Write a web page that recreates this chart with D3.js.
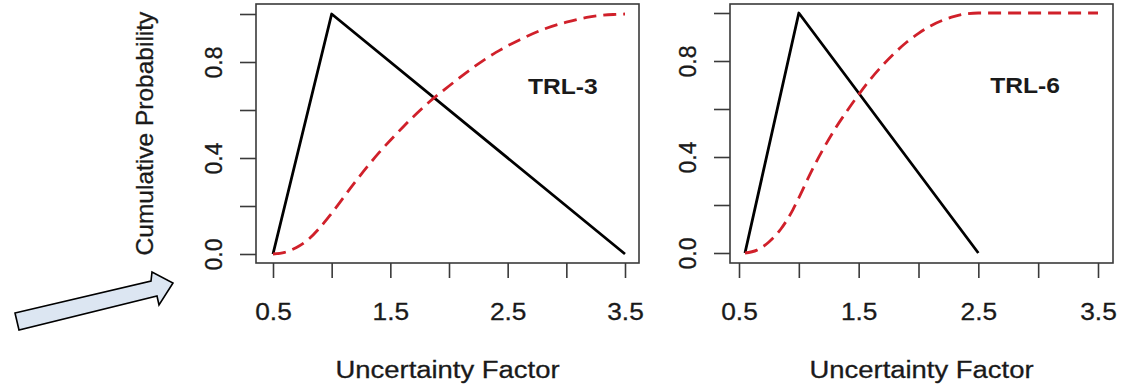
<!DOCTYPE html>
<html>
<head>
<meta charset="utf-8">
<script src="https://cdn.jsdelivr.net/npm/d3@7"></script>
<style>
  html, body { margin: 0; padding: 0; background: #fff; }
  svg { display: block; }
  text { font-family: "Liberation Sans", Arial, Helvetica, sans-serif; fill: #1a1a1a; }
</style>
</head>
<body>
<svg id="chart" width="1132" height="385"></svg>
<script>
// ---------- data ----------
const xTicks = [0.5, 1.0, 1.5, 2.0, 2.5, 3.0, 3.5];
const xTickLabels = ["0.5", "", "1.5", "", "2.5", "", "3.5"];
const yTicks = [0, 0.2, 0.4, 0.6, 0.8, 1.0];
const yTickLabels = ["0.0", "", "0.4", "", "0.8", ""];
const panelNames = ["TRL-3", "TRL-6"];
const xTitle = "Uncertainty Factor";
const yTitle = "Cumulative Probability";

// black solid triangle
const trl3TriX = [0.5, 1.0, 3.5];
const trl3TriY = [0, 1, 0];
const trl6TriX = [0.55, 1.0, 2.5];
const trl6TriY = [0, 1, 0];

// red dashed cumulative curve
const trl3CdfX = [0.5, 0.6, 0.7, 0.8, 0.9, 1.0, 1.2, 1.4, 1.6, 1.8, 2.0, 2.2, 2.4, 2.6, 2.8, 3.0, 3.2, 3.4, 3.5];
const trl3CdfY = [0, 0.007, 0.027, 0.06, 0.11, 0.17, 0.30, 0.42, 0.525, 0.62, 0.70, 0.775, 0.84, 0.892, 0.935, 0.966, 0.988, 0.998, 1.0];
const trl6CdfX = [0.55, 0.65, 0.75, 0.85, 0.95, 1.0, 1.1, 1.2, 1.3, 1.4, 1.5, 1.6, 1.7, 1.8, 1.9, 2.0, 2.1, 2.2, 2.3, 2.4, 2.5, 3.0, 3.5];
const trl6CdfY = [0, 0.012, 0.046, 0.10, 0.18, 0.23, 0.335, 0.43, 0.515, 0.59, 0.66, 0.725, 0.782, 0.833, 0.878, 0.915, 0.946, 0.969, 0.986, 0.997, 1.0, 1.0, 1.0];

// ---------- layout ----------
const svg = d3.select("#chart");
svg.append("rect").attr("width", 1132).attr("height", 385).attr("fill", "#fff");

const HS = 1.12; // horizontal stretch of the original picture
const red = "#d0202a";
const ink = "#1a1a1a";

const panels = [
  { name: panelNames[0], triX: trl3TriX, triY: trl3TriY, cdfX: trl3CdfX, cdfY: trl3CdfY,
    box: [256, 4, 639, 263], xr: [273, 625], yr: [254, 14], label: [2.97, 0.7], yTitle: true },
  { name: panelNames[1], triX: trl6TriX, triY: trl6TriY, cdfX: trl6CdfX, cdfY: trl6CdfY,
    box: [730, 4, 1113, 263], xr: [739, 1098], yr: [253, 13], label: [2.89, 0.7], yTitle: false }
];

panels.forEach(p => {
  const x = d3.scaleLinear().domain([0.5, 3.5]).range(p.xr);
  const y = d3.scaleLinear().domain([0, 1]).range(p.yr);
  const g = svg.append("g");
  const [bx0, by0, bx1, by1] = p.box;

  // x axis
  const xAxis = d3.axisBottom(x).tickValues(xTicks).tickSize(15)
    .tickFormat((d, i) => xTickLabels[i]);
  const gx = g.append("g").attr("transform", `translate(0,${by1})`).call(xAxis);
  gx.select(".domain").remove();
  gx.selectAll(".tick line").attr("stroke", "#3a3a3a").attr("stroke-width", 1.6);
  gx.selectAll(".tick text")
    .attr("y", 0).attr("dy", 0)
    .attr("transform", `translate(0,57) scale(${HS},1)`)
    .attr("font-size", 23.5).attr("fill", ink)
    .attr("stroke", ink).attr("stroke-width", 0.3)
    .attr("text-anchor", "middle");

  // y axis
  const yAxis = d3.axisLeft(y).tickValues(yTicks).tickSize(16)
    .tickFormat((d, i) => yTickLabels[i]);
  const gy = g.append("g").attr("transform", `translate(${bx0},0)`).call(yAxis);
  gy.select(".domain").remove();
  gy.selectAll(".tick line").attr("stroke", "#3a3a3a").attr("stroke-width", 1.6);
  gy.selectAll(".tick text")
    .attr("x", 0).attr("dy", 0).attr("y", -34)
    .attr("transform", "rotate(-90)")
    .attr("font-size", 23).attr("fill", ink)
    .attr("stroke", ink).attr("stroke-width", 0.3)
    .attr("text-anchor", "middle");

  // box
  g.append("rect")
    .attr("x", bx0).attr("y", by0)
    .attr("width", bx1 - bx0).attr("height", by1 - by0)
    .attr("fill", "none").attr("stroke", "#3a3a3a").attr("stroke-width", 1.6);

  // triangle (black)
  const tri = p.triX.map((v, i) => [v, p.triY[i]]);
  g.append("path").datum(tri)
    .attr("d", d3.line().x(d => x(d[0])).y(d => y(d[1])))
    .attr("fill", "none").attr("stroke", "#000").attr("stroke-width", 2.8)
    .attr("stroke-linejoin", "round");

  // cumulative (red dashed)
  const cdf = p.cdfX.map((v, i) => [v, p.cdfY[i]]);
  g.append("path").datum(cdf)
    .attr("d", d3.line().curve(d3.curveMonotoneX).x(d => x(d[0])).y(d => y(d[1])))
    .attr("fill", "none").attr("stroke", red).attr("stroke-width", 2.8)
    .attr("stroke-dasharray", "13,7");

  // panel label
  g.append("text")
    .attr("transform", `translate(${x(p.label[0])},${y(p.label[1]) + 8}) scale(${HS},1)`)
    .attr("text-anchor", "middle").attr("font-size", 22).attr("font-weight", "bold")
    .attr("fill", "#111")
    .text(p.name);

  // x title
  g.append("text")
    .attr("transform", `translate(${(bx0 + bx1) / 2},378) scale(${HS},1)`)
    .attr("text-anchor", "middle").attr("font-size", 24.5)
    .attr("stroke", ink).attr("stroke-width", 0.3)
    .text(xTitle);

  if (p.yTitle) {
    g.append("text")
      .attr("transform", `translate(153,${(by0 + by1) / 2}) rotate(-90)`)
      .attr("text-anchor", "middle").attr("font-size", 24.5)
      .attr("stroke", ink).attr("stroke-width", 0.3)
      .text(yTitle);
  }
});

// annotation arrow
const arrowPts = [[15, 313], [151, 281], [152, 272], [173, 283], [159, 305], [157, 296], [19, 330]];
svg.append("path")
  .attr("d", d3.line()(arrowPts) + "Z")
  .attr("fill", "#dce6f2").attr("stroke", "#000").attr("stroke-width", 1.6)
  .attr("stroke-linejoin", "miter");
</script>
</body>
</html>
